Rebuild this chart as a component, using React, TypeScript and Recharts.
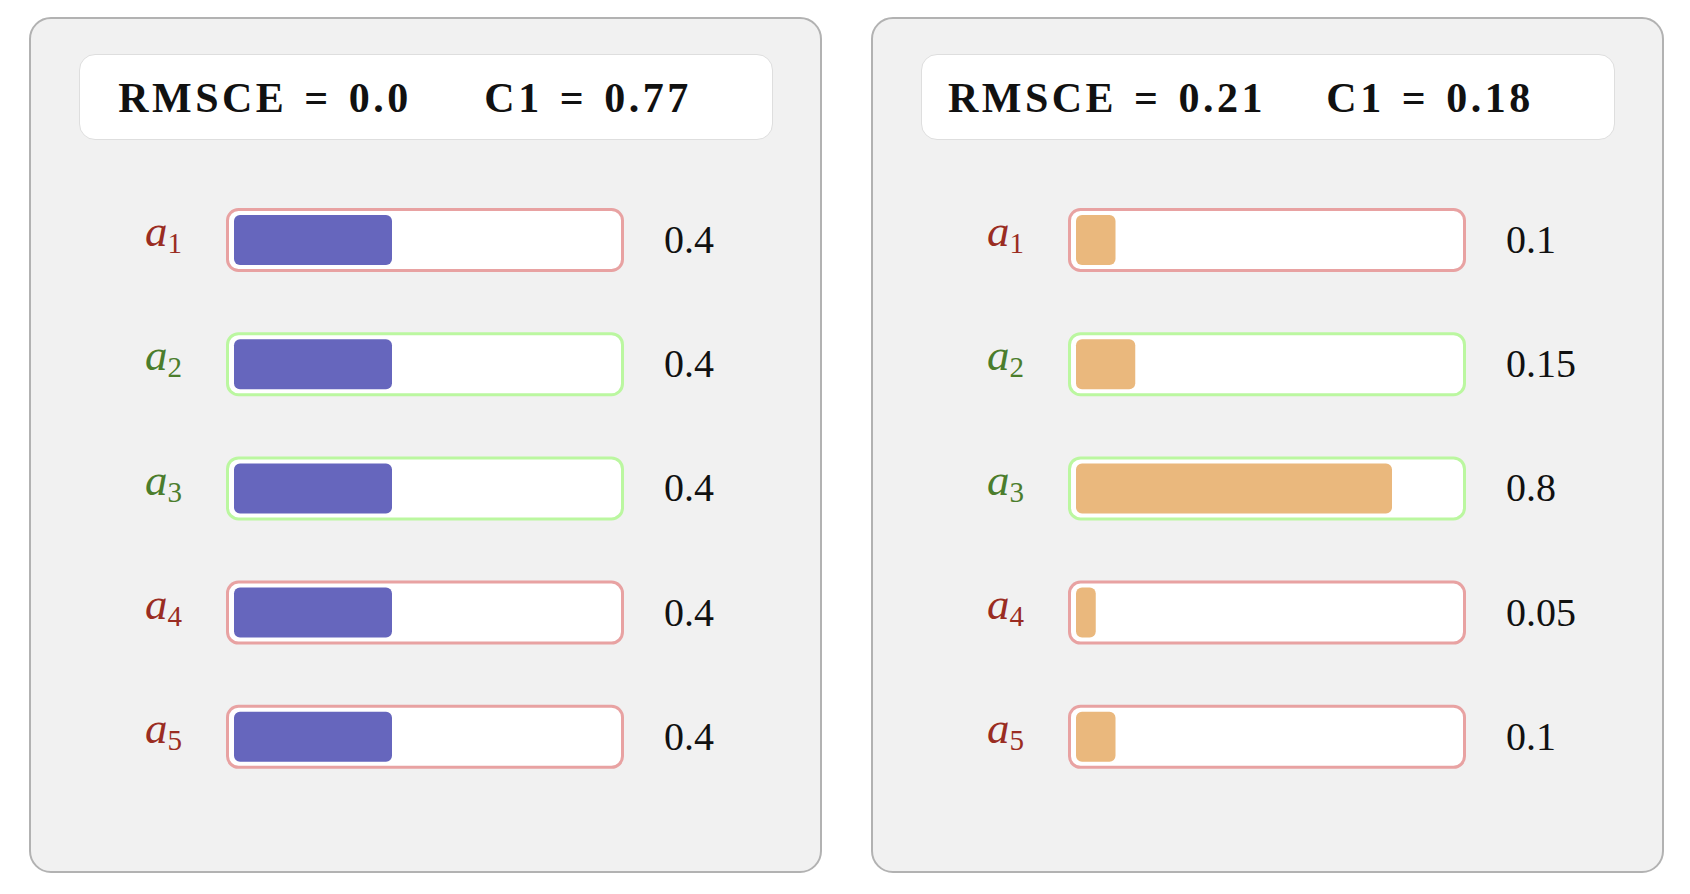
import { BarChart, Bar, XAxis, YAxis, LabelList } from "recharts";

// rows a1..a5, and whether the row is flagged "good" (green) or "bad" (red)
const categories = ["1", "2", "3", "4", "5"];
const rowGood = [false, true, true, false, false];

// bar values for each panel
const leftValues = [0.4, 0.4, 0.4, 0.4, 0.4];
const rightValues = [0.1, 0.15, 0.8, 0.05, 0.1];

// header metrics
const rmsceValues = ["0.0", "0.21"];
const c1Values = ["0.77", "0.18"];

const SERIF = "'Liberation Serif', 'DejaVu Serif', serif";
const RED_TEXT = "#9a2c22";
const GREEN_TEXT = "#4b7d2c";
const RED_TRACK = "#e8a2a2";
const GREEN_TRACK = "#bbf7a0";

type Row = { name: string; value: number; good: boolean };

function makeRows(values: number[]): Row[] {
  return categories.map((name, i) => ({ name, value: values[i], good: rowGood[i] }));
}

function Track(props: any) {
  const { x, y, width, height, payload } = props;
  const stroke = payload && payload.good ? GREEN_TRACK : RED_TRACK;
  return (
    <rect
      x={x - 6.5}
      y={y - 5.5}
      width={width}
      height={height + 11}
      rx={11}
      ry={11}
      fill="#ffffff"
      stroke={stroke}
      strokeWidth={3}
    />
  );
}

function RowTick(props: any) {
  const { x, y, payload, rows } = props;
  const row = rows.find((r: Row) => r.name === payload.value);
  const color = row && row.good ? GREEN_TEXT : RED_TEXT;
  return (
    <text x={x} y={y + 6} textAnchor="end" fill={color} fontFamily={SERIF}>
      <tspan fontStyle="italic" fontSize={45}>a</tspan>
      <tspan fontSize={29} dy={7}>{payload.value}</tspan>
    </text>
  );
}

function ValueLabel(props: any) {
  const vb = props.viewBox || props;
  const x = vb.x;
  const y = vb.y + vb.height / 2;
  return (
    <text x={x + 430} y={y + 13} fontSize={40} fontFamily={SERIF} fill="#111">
      {String(props.value)}
    </text>
  );
}

function Panel({
  left,
  values,
  color,
  rmsce,
  c1,
}: {
  left: number;
  values: number[];
  color: string;
  rmsce: string;
  c1: string;
}) {
  const rows = makeRows(values);
  return (
    <div
      style={{
        position: "absolute",
        left,
        top: 17,
        width: 793,
        height: 856,
        boxSizing: "border-box",
        border: "2px solid #b2b2b2",
        borderRadius: 22,
        background: "#f1f1f1",
      }}
    >
      <div
        style={{
          position: "absolute",
          left: 48,
          top: 35,
          width: 694,
          height: 86,
          boxSizing: "border-box",
          border: "1.5px solid #dedede",
          borderRadius: 16,
          background: "#ffffff",
          fontFamily: SERIF,
          fontWeight: "bold",
          fontSize: 42,
          letterSpacing: 3.5,
          wordSpacing: 3,
          color: "#111",
        }}
      >
        <div style={{ position: "absolute", left: 0, width: 370, top: 19, textAlign: "center", whiteSpace: "nowrap" }}>
          RMSCE = {rmsce}
        </div>
        <div style={{ position: "absolute", left: 358, width: 300, top: 19, textAlign: "center", whiteSpace: "nowrap" }}>
          C1 = {c1}
        </div>
      </div>
      <div style={{ position: "absolute", left: 0, top: 0 }}>
        <BarChart
          width={789}
          height={852}
          data={rows}
          layout="vertical"
          margin={{ top: 159, right: 191, bottom: 72, left: 0 }}
        >
          <XAxis type="number" domain={[0, 1]} hide />
          <YAxis
            type="category"
            dataKey="name"
            width={203}
            axisLine={false}
            tickLine={false}
            tickSize={0}
            tickMargin={52}
            tick={(p: any) => <RowTick {...p} rows={rows} />}
          />
          <Bar
            dataKey="value"
            barSize={50}
            fill={color}
            radius={6}
            background={(p: any) => <Track {...p} />}
            isAnimationActive={false}
          >
            <LabelList dataKey="value" content={(p: any) => <ValueLabel {...p} />} />
          </Bar>
        </BarChart>
      </div>
    </div>
  );
}

export default function App() {
  return (
    <div style={{ position: "absolute", left: 0, top: 0, width: 1690, height: 894, background: "#ffffff" }}>
      <Panel left={29} values={leftValues} color="#6666bd" rmsce={rmsceValues[0]} c1={c1Values[0]} />
      <Panel left={871} values={rightValues} color="#eab87d" rmsce={rmsceValues[1]} c1={c1Values[1]} />
    </div>
  );
}
